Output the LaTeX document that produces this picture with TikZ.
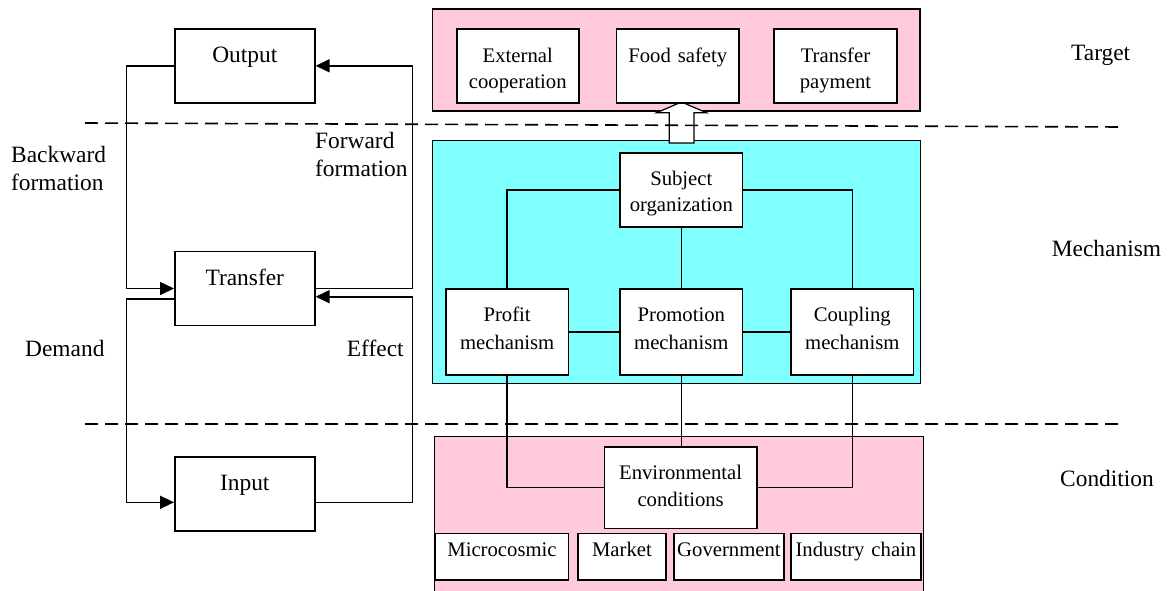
\documentclass[tikz,border=0pt]{standalone}
\usepackage{fontspec}
\setmainfont{Liberation Serif}
\usetikzlibrary{arrows.meta}
\definecolor{pinkbg}{RGB}{255,202,222}
\definecolor{cyanbg}{RGB}{128,255,255}
\tikzset{
  big/.style={font=\fontsize{23.4}{28}\selectfont},
  small/.style={font=\fontsize{20.7}{26}\selectfont},
  box/.style={draw, fill=white, line width=1.6pt, inner sep=0pt, align=center},
  lbox/.style={box, big, text width=140pt, text height=33.7pt, text depth=40.3pt, anchor=north west},
  rbox/.style={box, small, anchor=north west},
  lab/.style={big, inner sep=0pt, align=left, anchor=base west},
  wire/.style={line width=1.6pt},
  arr/.style={wire, -{Triangle[length=14pt,width=13pt]}},
  panel/.style={draw, line width=1.2pt},
  sep/.style={line width=1.6pt, dash pattern=on 13pt off 7pt},
}
\begin{document}
\begin{tikzpicture}[x=1pt,y=-1pt]
\clip (0,0) rectangle (1170,590);
% panels
\draw[panel, fill=pinkbg] (432.3,9) rectangle (920,111);
\draw[panel, fill=cyanbg] (432.3,140.7) rectangle (920.7,383.3);
\draw[panel, fill=pinkbg] (434.7,436.7) rectangle (923.3,600);
% hollow arrow
\draw[line width=1.2pt, fill=white] (669.3,143) -- (669.3,112.7) -- (656.7,112.7) -- (681.5,102) -- (706.3,112.7) -- (694,112.7) -- (694,143) -- cycle;
% left boxes
\node[lbox] (out) at (174,28) {Output};
\node[lbox] (tr) at (174,250.7) {Transfer};
\node[lbox] (in) at (174,456) {Input};
% target boxes
\node[rbox, text width=122pt, text height=33.7pt, text depth=40.3pt] (ext) at (456,28) {External\\cooperation};
\node[rbox, text width=122.6pt, text height=33.7pt, text depth=40.3pt] (food) at (615.7,28) {Food safety};
\node[rbox, text width=122.7pt, text height=33.7pt, text depth=40.3pt] (pay) at (773.3,28) {Transfer\\payment};
% mechanism boxes
\node[rbox, text width=122.4pt, text height=33pt, text depth=41pt] (subj) at (619.3,152) {Subject\\organization};
\node[rbox, font=\fontsize{20.7}{27.6}\selectfont, text width=122.7pt, text height=32.7pt, text depth=53.3pt] (prof) at (445,288) {Profit\\mechanism};
\node[rbox, font=\fontsize{20.7}{27.6}\selectfont, text width=122.4pt, text height=32.7pt, text depth=53.3pt] (prom) at (619.3,288) {Promotion\\mechanism};
\node[rbox, font=\fontsize{20.7}{27.6}\selectfont, text width=122.4pt, text height=32.7pt, text depth=53.3pt] (coup) at (790.3,288) {Coupling\\mechanism};
% condition boxes
\node[rbox, font=\fontsize{20.7}{27}\selectfont, text width=152.3pt, text height=33pt, text depth=48.7pt] (env) at (603.7,446) {Environmental\\conditions};
\node[rbox, text width=133pt, text height=23pt, text depth=23.3pt] (mic) at (434.7,532.7) {Microcosmic};
\node[rbox, text width=88.3pt, text height=23pt, text depth=23.3pt] (mkt) at (577,532.7) {Market};
\node[rbox, text width=110.3pt, text height=23pt, text depth=23.3pt] (gov) at (673,532.7) {Government};
\node[rbox, text width=129.7pt, text height=23pt, text depth=23.3pt] (ind) at (790.3,532.7) {Industry chain};
% left loop connectors
\draw[arr] (out.west) -- ++(-47.7,0) |- (tr.west);
\draw[arr] (tr.east) -- ++(96.7,0) |- (out.east);
\draw[arr] ([yshift=-10.5pt]tr.west) -- ++(-47.7,0) |- ([yshift=-8.5pt]in.west);
\draw[arr] ([yshift=-8.5pt]in.east) -- ++(96.7,0) |- ([yshift=-8.2pt]tr.east);
% mechanism connectors
\draw[wire] (subj.west) -| (prof.north);
\draw[wire] (subj.east) -| (coup.north);
\draw[wire] (subj.south) -- (prom.north);
\draw[wire] (prof.east) -- (prom.west);
\draw[wire] (prom.east) -- (coup.west);
\draw[wire] (prof.south) |- (env.west);
\draw[wire] (prom.south) -- (prom.south |- env.north);
\draw[wire] (coup.south) |- (env.east);
% separators
\draw[sep] (85,123) -- (1123,127);
\draw[sep] (85,424) -- (1125,424);
% labels
\node[lab, text width=110pt] (bwd) at (11,162) {Backward\\formation};
\node[lab, text width=110pt] (fwd) at (315,148) {Forward\\formation};
\node[lab] (dem) at (25,356.7) {Demand};
\node[lab] (eff) at (346.7,356) {Effect};
\node[lab] (tgt) at (1071,60) {Target};
\node[lab] (mech) at (1051.7,256) {Mechanism};
\node[lab] (cond) at (1060,486.7) {Condition};
\end{tikzpicture}
\end{document}
